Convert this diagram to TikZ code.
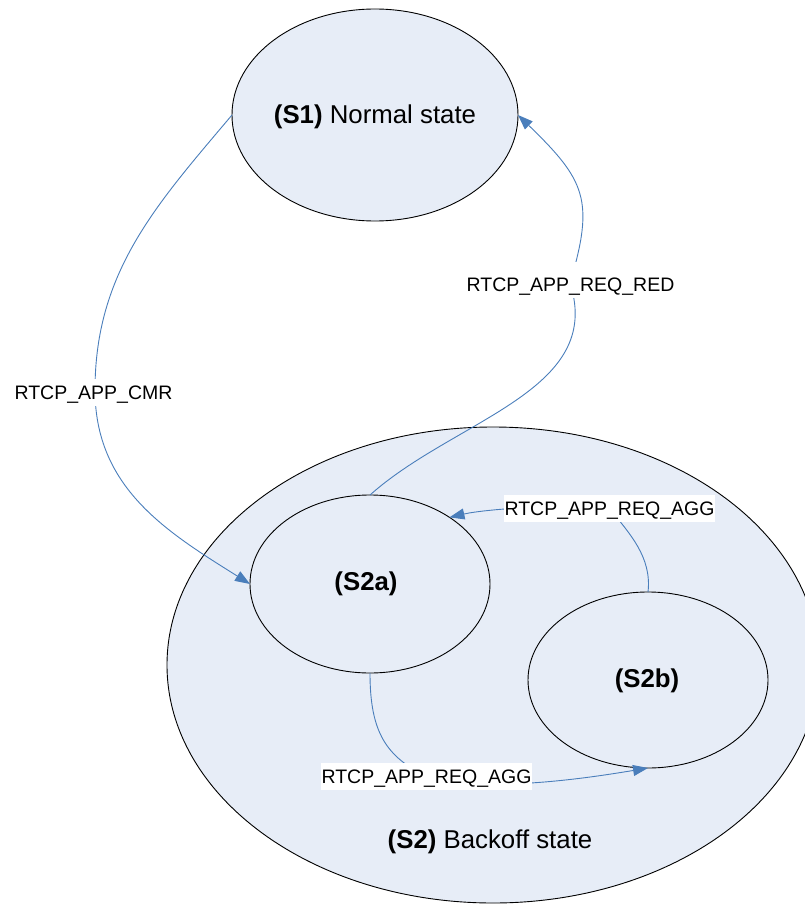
\documentclass[tikz,border=0pt]{standalone}
\usepackage{fontspec}
\setmainfont{Liberation Sans}
\usetikzlibrary{arrows.meta,shapes.geometric}
\definecolor{stfill}{RGB}{231,237,247}
\definecolor{edgeblue}{RGB}{74,126,187}
\begin{document}
\begin{tikzpicture}[x=1pt,y=-1pt,
  state/.style={ellipse, draw=black, line width=0.9pt, fill=stfill, inner sep=0pt, outer sep=0pt},
  stxt/.style={font=\fontsize{25.8}{27}\selectfont, inner sep=0pt},
  conn/.style={draw=edgeblue, line width=0.9pt},
  arr/.style={conn, -{Triangle[length=15pt,width=11pt]}},
  elabel/.style={font=\fontsize{19.5}{20}\selectfont, anchor=base, fill=white, inner xsep=1pt, inner ysep=0pt, text height=20pt, text depth=7pt}
]
\useasboundingbox (0,0) rectangle (805,904);
\clip (0,0) rectangle (805,904);
% states
\node[state, minimum width=652, minimum height=476] (S2) at (493,665) {};
\node[state, minimum width=286, minimum height=212] (S1) at (375,115) {};
\node[state, minimum width=240, minimum height=178] (S2a) at (370,584) {};
\node[state, minimum width=240, minimum height=176] (S2b) at (648,680) {};
% state texts
\node[stxt, anchor=base] (t1) at (375,124) {\textbf{(S1)} Normal state};
\node[stxt, anchor=base] (t2) at (490,848) {\textbf{(S2)} Backoff state};
\node[stxt] (t2a) at (366,584) {\textbf{(S2a)}};
\node[stxt] (t2b) at (647,681) {\textbf{(S2b)}};
% label anchors for routing (invisible)
\coordinate (m1) at (95,390);
\coordinate (m2) at (570,283);
\path (609.5,515) node[elabel, fill=none, text opacity=0] (lagg1) {RTCP\_APP\_REQ\_AGG};
\path (426.5,783) node[elabel, fill=none, text opacity=0] (lagg2) {RTCP\_APP\_REQ\_AGG};
% connectors
\draw[arr] (S1.west) .. controls +(-76,90) and +(0,-118) .. (m1)
                     .. controls +(0,98) and +(-83,-52) .. (S2a.west);
\draw[arr] (S2a.north) .. controls +(85,-76) and +(35,108) .. (m2)
                       .. controls +(25,-83) and +(67,65) .. (S1.east);
\draw[arr] (S2b.north) .. controls +(4,-35) and +(20,25) .. (lagg1.center)
                       .. controls +(-50,-5) and +(35,-8) .. (S2a.40);
\draw[arr] (S2a.south) .. controls +(0,60) and +(-40,-20) .. (lagg2.center)
                       .. controls +(60,17) and +(-60,10) .. (S2b.south);
% connector labels
\node[elabel] (lcmr) at (93.5,399) {RTCP\_APP\_CMR};
\node[elabel, text height=29pt] (lred) at (570.5,291) {RTCP\_APP\_REQ\_RED};
\node[elabel] (lagg1t) at (609.5,515) {RTCP\_APP\_REQ\_AGG};
\node[elabel] (lagg2t) at (426.5,783) {RTCP\_APP\_REQ\_AGG};
\end{tikzpicture}
\end{document}
